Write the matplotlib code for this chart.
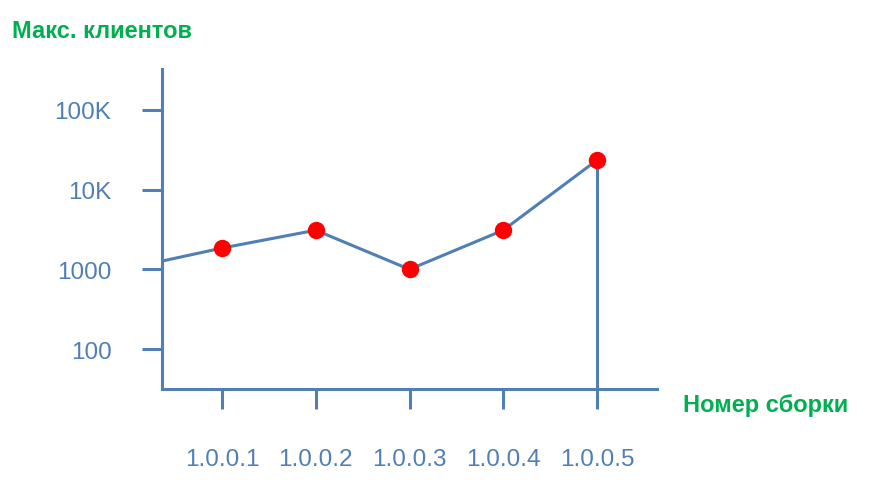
import matplotlib
matplotlib.use('Agg')
import matplotlib.pyplot as plt

# данные
builds = ['1.0.0.1', '1.0.0.2', '1.0.0.3', '1.0.0.4', '1.0.0.5']
clients = [1850, 3100, 1000, 3100, 23500]
start_clients = 1270          # где линия выходит из оси Y
y_ticks = [100, 1000, 10000, 100000]
y_tick_labels = ['100', '1000', '10K', '100K']

blue = '#4F7FB5'
green = '#00B050'
plt.rcParams['font.family'] = ['Liberation Sans', 'DejaVu Sans']

fig = plt.figure(figsize=(8.71, 4.85), dpi=100)
ax = fig.add_axes([162 / 871, 95 / 485, 495 / 871, 320 / 485])

pos = list(range(1, len(builds) + 1))
ax.set_yscale('log')
ax.set_xlim(0.36, 5.64)
ax.set_ylim(31.5, 327000)

# линия от оси и точки
x0 = ax.get_xlim()[0]
ax.plot([x0] + pos, [start_clients] + clients, color=blue, lw=2.2, zorder=3)
ax.plot(pos, clients, 'o', color='#FF0000', ms=11.5, zorder=4)
# вертикаль от последней точки вниз
ax.vlines(pos[-1], ax.get_ylim()[0], clients[-1], color=blue, lw=2.2, zorder=2)

# оси
for s in ['top', 'right']:
    ax.spines[s].set_visible(False)
for s in ['left', 'bottom']:
    ax.spines[s].set_color(blue)
    ax.spines[s].set_linewidth(2.2)

ax.set_xticks(pos)
ax.set_xticklabels(builds)
ax.set_yticks(y_ticks)
ax.set_yticklabels(y_tick_labels)
ax.minorticks_off()
ax.tick_params(axis='both', colors=blue, labelcolor=blue, labelsize=17.5,
               length=14.4, width=2.2, direction='out')
ax.tick_params(axis='y', pad=22)
ax.tick_params(axis='x', pad=28)

fig.text(12 / 871, 1 - 31 / 485, 'Макс. клиентов', color=green,
         fontsize=17, fontweight='bold', va='center', ha='left')
fig.text(683 / 871, 1 - 406 / 485, 'Номер сборки', color=green,
         fontsize=17, fontweight='bold', va='center', ha='left')

fig.savefig('out.png', dpi=100)
